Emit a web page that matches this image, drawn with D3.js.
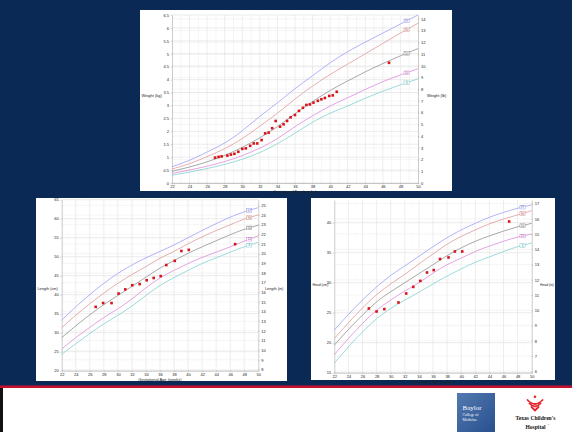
<!DOCTYPE html>
<html><head><meta charset="utf-8">
<script src="https://cdn.jsdelivr.net/npm/d3@7"></script>
<style>
html,body{margin:0;padding:0;background:#0a2a55;}
svg{display:block;}
</style></head><body>
<svg id="c" width="572" height="432"></svg>
<script>
// ---------- DATA ----------
const weeks = [22,24,26,28,30,32,34,36,38,40,42,44,46,48,50];
const xTickLabels = [22,24,26,28,30,32,34,36,38,40,42,44,46,48,50];
const percentileNames = ["97","90","50","10","3"];

const weightP97 = [0.63,0.88,1.2,1.55,2.02,2.58,3.1,3.65,4.15,4.65,5.08,5.45,5.8,6.15,6.5];
const weightP90 = [0.54,0.75,1.02,1.33,1.72,2.2,2.7,3.25,3.75,4.2,4.6,5.0,5.4,5.8,6.18];
const weightP50 = [0.45,0.62,0.82,1.07,1.38,1.75,2.18,2.68,3.15,3.58,3.95,4.3,4.62,4.92,5.2];
const weightP10 = [0.37,0.5,0.65,0.83,1.06,1.35,1.72,2.18,2.6,2.98,3.3,3.62,3.92,4.18,4.42];
const weightP3  = [0.3,0.42,0.56,0.72,0.92,1.18,1.52,1.93,2.35,2.7,2.98,3.28,3.55,3.8,4.03];
const weightKgTicks = [0,0.5,1,1.5,2,2.5,3,3.5,4,4.5,5,5.5,6,6.5];
const weightLbTicks = [0,1,2,3,4,5,6,7,8,9,10,11,12,13,14];
const weightPointWeeks = [26.9,27.3,27.65,28.3,28.7,29.1,29.55,30.0,30.4,30.9,31.3,31.7,32.2,32.6,33.0,33.4,33.8,34.3,34.7,35.1,35.5,36.0,36.45,36.9,37.3,37.7,38.1,38.6,39.0,39.4,39.9,40.3,40.75,46.7];
const weightPointKg = [0.98,1.01,1.03,1.06,1.10,1.13,1.21,1.32,1.34,1.44,1.53,1.53,1.66,1.92,1.95,2.12,2.40,2.18,2.27,2.40,2.54,2.63,2.79,2.91,3.02,3.04,3.11,3.18,3.24,3.29,3.37,3.39,3.53,4.65];

const lengthP97 = [33.3,36.8,40.0,43.0,45.6,47.8,49.7,51.4,53.1,55.0,56.9,58.7,60.4,61.8,62.9];
const lengthP90 = [31.3,34.6,37.6,40.4,43.0,45.3,47.4,49.6,51.4,53.4,55.2,56.9,58.4,59.9,61.0];
const lengthP50 = [28.7,31.8,34.7,37.4,39.8,42.2,44.6,47.0,49.0,50.9,52.6,54.2,55.8,57.2,58.3];
const lengthP10 = [25.7,28.7,31.4,34.0,36.3,38.9,41.8,44.4,46.4,48.2,49.8,51.2,52.6,54.1,55.5];
const lengthP3  = [24.3,27.1,29.8,32.3,34.6,37.0,39.8,42.4,44.5,46.4,48.2,49.7,51.2,52.6,53.8];
const lengthCmTicks = [20,25,30,35,40,45,50,55,60,65];
const lengthInTicks = [8,9,10,11,12,13,14,15,16,17,18,19,20,21,22,23,24,25];
const lengthPointWeeks = [26.84,27.9,29.1,30.1,31.05,32.05,33.1,34.1,35.1,36.1,36.9,38.1,39.05,40.1,46.7];
const lengthPointCm = [36.8,37.8,37.8,40.3,41.4,42.5,42.8,43.8,44.4,44.9,47.8,48.9,51.5,51.8,53.3];

const headP97 = [22.1,24.7,27.1,29.3,31.2,32.8,34.4,36.0,37.5,38.8,39.9,40.9,41.7,42.4,42.95];
const headP90 = [20.7,23.3,25.8,28.0,29.8,31.4,33.1,34.8,36.4,37.7,38.8,39.8,40.6,41.3,42.0];
const headP50 = [19.6,22.2,24.6,26.8,28.5,30.0,31.5,33.0,34.5,35.8,36.9,37.8,38.6,39.3,39.9];
const headP10 = [18.0,20.7,23.2,25.4,27.1,28.6,30.0,31.6,33.0,34.1,35.2,36.1,36.9,37.6,38.1];
const headP3  = [16.6,19.3,21.8,24.0,25.7,27.1,28.4,29.8,31.1,32.3,33.4,34.3,35.2,36.0,36.6];
const headCmTicks = [15,20,25,30,35,40];
const headInTicks = [6,7,8,9,10,11,12,13,14,15,16,17];
const headPointWeeks = [26.9,28.0,29.1,31.1,32.2,33.2,34.2,35.15,36.1,37.0,38.2,39.1,40.15,46.8];
const headPointCm = [25.7,25.2,25.6,26.7,28.2,29.3,30.3,31.7,32.1,33.95,34.2,35.2,35.2,40.2];

// ---------- STYLE ----------
const lineColors = ["#9a9af5","#e29494","#8c8c8c","#da86da","#7ccfcf"];
const FONT = "'Liberation Sans', Arial, sans-serif";
const svg = d3.select("#c");

function drawChart(cfg) {
  const g = svg.append("g");
  g.append("rect").attr("x", cfg.panel[0]).attr("y", cfg.panel[1])
    .attr("width", cfg.panel[2]-cfg.panel[0]).attr("height", cfg.panel[3]-cfg.panel[1])
    .attr("fill", "#fff");
  const x = d3.scaleLinear().domain([22,50]).range([cfg.px0, cfg.px1]);
  const y = d3.scaleLinear().domain(cfg.yDomain).range([cfg.py0, cfg.py1]);
  const yR = d3.scaleLinear().domain(cfg.yDomain.map(v => v / cfg.conv)).range([cfg.py0, cfg.py1]);

  const grid = g.append("g");
  d3.range(23, 50, 1).forEach(w => {
    grid.append("line").attr("x1", x(w)).attr("x2", x(w)).attr("y1", cfg.py1).attr("y2", cfg.py0)
      .attr("stroke", w % 2 === 0 ? "#e0e0e0" : "#eeeeee").attr("stroke-width", 0.6)
      .attr("stroke-dasharray", w % 2 === 0 ? null : (cfg.dotted ? "0.6,3" : null));
  });
  cfg.rightTicks.forEach(t => {
    grid.append("line").attr("x1", cfg.px0).attr("x2", cfg.px1).attr("y1", yR(t)).attr("y2", yR(t))
      .attr("stroke", "#efefef").attr("stroke-width", 0.6);
  });
  cfg.leftTicks.forEach(t => {
    grid.append("line").attr("x1", cfg.px0).attr("x2", cfg.px1).attr("y1", y(t)).attr("y2", y(t))
      .attr("stroke", "#dedede").attr("stroke-width", 0.6);
  });

  const styleAxis = sel => {
    sel.selectAll("text").attr("font-size", 4).attr("font-family", FONT).attr("fill", "#222");
    sel.selectAll("path").attr("stroke", "#aaa").attr("stroke-width", 0.6);
    sel.selectAll("line").attr("stroke", "#aaa").attr("stroke-width", 0.5);
  };
  g.append("g").attr("transform", `translate(0,${cfg.py0})`)
    .call(d3.axisBottom(x).tickValues(xTickLabels).tickSize(1.5).tickPadding(1).tickSizeOuter(0))
    .call(styleAxis);
  g.append("g").attr("transform", `translate(${cfg.px0},0)`)
    .call(d3.axisLeft(y).tickValues(cfg.leftTicks).tickSize(1.5).tickPadding(1.5).tickFormat(d3.format("~g")).tickSizeOuter(0))
    .call(styleAxis);
  g.append("g").attr("transform", `translate(${cfg.px1},0)`)
    .call(d3.axisRight(yR).tickValues(cfg.rightTicks).tickSize(1.5).tickPadding(1.5).tickFormat(d3.format("~g")).tickSizeOuter(0))
    .call(styleAxis);

  g.append("text").attr("x", (cfg.px0+cfg.px1)/2).attr("y", cfg.py0 + 10).attr("text-anchor", "middle")
    .attr("font-size", 4).attr("font-family", FONT).attr("fill", "#222").text("Gestational Age (weeks)");
  g.append("text").attr("x", cfg.panel[0] + 1.5).attr("y", cfg.titleY).attr("font-size", cfg.titleSize)
    .attr("font-family", FONT).attr("fill", "#222").text(cfg.leftTitle);
  g.append("text").attr("x", cfg.rightTitleX).attr("y", cfg.titleY).attr("font-size", cfg.titleSize)
    .attr("font-family", FONT).attr("fill", "#222").text(cfg.rightTitle);

  const line = d3.line().x((d,i) => x(weeks[i])).y(d => y(d)).curve(d3.curveNatural);
  cfg.curves.forEach((vals, k) => {
    g.append("path").attr("d", line(vals)).attr("fill", "none")
      .attr("stroke", lineColors[k]).attr("stroke-width", 0.75);
  });
  cfg.curves.forEach((vals, k) => {
    const f = d3.scaleLinear().domain(weeks).range(vals);
    const lx = x(48.7), ly = y(f(48.7));
    g.append("rect").attr("x", lx - 2.6).attr("y", ly - 1.8).attr("width", 5.2).attr("height", 3.6)
      .attr("fill", "#fff").attr("stroke", lineColors[k]).attr("stroke-width", 0.5);
    g.append("text").attr("x", lx).attr("y", ly + 1.2).attr("text-anchor", "middle")
      .attr("font-size", 3.2).attr("font-family", FONT).attr("fill", d3.color(lineColors[k]).darker(1.3))
      .text(percentileNames[k]);
  });
  g.append("g").selectAll("rect").data(cfg.pointsX).join("rect")
    .attr("x", (d) => x(d) - 1.3).attr("y", (d,i) => y(cfg.pointsY[i]) - 1.3)
    .attr("width", 2.6).attr("height", 2.6).attr("fill", "#d8141a");
}

drawChart({
  panel: [140, 10, 452, 191], px0: 172, px1: 418, py0: 183, py1: 15,
  yDomain: [0, 6.5], conv: 0.45359, leftTicks: weightKgTicks, rightTicks: weightLbTicks,
  leftTitle: "Weight (kg)", rightTitle: "Weight (lb)", titleY: 96.5, rightTitleX: 427, titleSize: 4,
  curves: [weightP97, weightP90, weightP50, weightP10, weightP3],
  pointsX: weightPointWeeks, pointsY: weightPointKg, dotted: false
});
drawChart({
  panel: [36, 198, 287, 381], px0: 61.7, px1: 258.3, py0: 370.7, py1: 199.7,
  yDomain: [20, 65], conv: 2.54, leftTicks: lengthCmTicks, rightTicks: lengthInTicks,
  leftTitle: "Length (cm)", rightTitle: "Length (in)", titleY: 289.5, rightTitleX: 265, titleSize: 3.8,
  curves: [lengthP97, lengthP90, lengthP50, lengthP10, lengthP3],
  pointsX: lengthPointWeeks, pointsY: lengthPointCm, dotted: true
});
drawChart({
  panel: [311, 198, 555, 380], px0: 334.3, px1: 531.7, py0: 372.7, py1: 200,
  yDomain: [15, 43.78], conv: 2.54, leftTicks: headCmTicks, rightTicks: headInTicks,
  leftTitle: "Head (cm)", rightTitle: "Head (in)", titleY: 285.5, rightTitleX: 540, titleSize: 3.4,
  curves: [headP97, headP90, headP50, headP10, headP3],
  pointsX: headPointWeeks, pointsY: headPointCm, dotted: true
});

// ---------- footer ----------
svg.append("rect").attr("x", 0).attr("y", 385.5).attr("width", 572).attr("height", 2.5).attr("fill", "#c8102e");
svg.append("rect").attr("x", 0).attr("y", 388).attr("width", 572).attr("height", 44).attr("fill", "#fff");
svg.append("rect").attr("x", 0).attr("y", 388).attr("width", 3).attr("height", 44).attr("fill", "#111");

const grad = svg.append("defs").append("linearGradient").attr("id", "bg").attr("x1", 0).attr("y1", 0).attr("x2", 1).attr("y2", 1);
grad.append("stop").attr("offset", 0).attr("stop-color", "#5479b0");
grad.append("stop").attr("offset", 1).attr("stop-color", "#27508e");
svg.append("rect").attr("x", 457).attr("y", 393).attr("width", 38).attr("height", 39).attr("fill", "url(#bg)");
const serif = "'Liberation Serif', 'DejaVu Serif', serif";
svg.append("text").attr("x", 462.5).attr("y", 409.5).attr("font-size", 7).attr("font-family", serif).attr("fill", "#fff").text("Baylor");
svg.append("text").attr("x", 462.5).attr("y", 415.5).attr("font-size", 3.8).attr("font-family", serif).attr("fill", "#fff").text("College of");
svg.append("text").attr("x", 462.5).attr("y", 421).attr("font-size", 3.8).attr("font-family", serif).attr("fill", "#fff").text("Medicine");

const logo = svg.append("g").attr("stroke", "#e3242b").attr("fill", "none").attr("stroke-linecap", "round");
svg.append("circle").attr("cx", 535).attr("cy", 396.8).attr("r", 1.3).attr("fill", "#e3242b");
logo.append("path").attr("d", "M527.5,400 Q535,408 542.5,400").attr("stroke-width", 1.8);
logo.append("path").attr("d", "M529.5,403.5 Q535,409.5 540.5,403.5").attr("stroke-width", 1.8);
logo.append("path").attr("d", "M531.5,407 L535,410.5 L538.5,407").attr("stroke-width", 1.8);
svg.append("text").attr("x", 535.5).attr("y", 420).attr("text-anchor", "middle").attr("font-size", 5.6)
  .attr("font-weight", "bold").attr("font-family", serif).attr("fill", "#111").text("Texas Children's");
svg.append("text").attr("x", 535.5).attr("y", 428.5).attr("text-anchor", "middle").attr("font-size", 5.6)
  .attr("font-weight", "bold").attr("font-family", serif).attr("fill", "#111").text("Hospital");
svg.append("text").attr("x", 547.5).attr("y", 425.5).attr("font-size", 2.5).attr("font-family", serif).attr("fill", "#111").text("®");
</script>
</body></html>
